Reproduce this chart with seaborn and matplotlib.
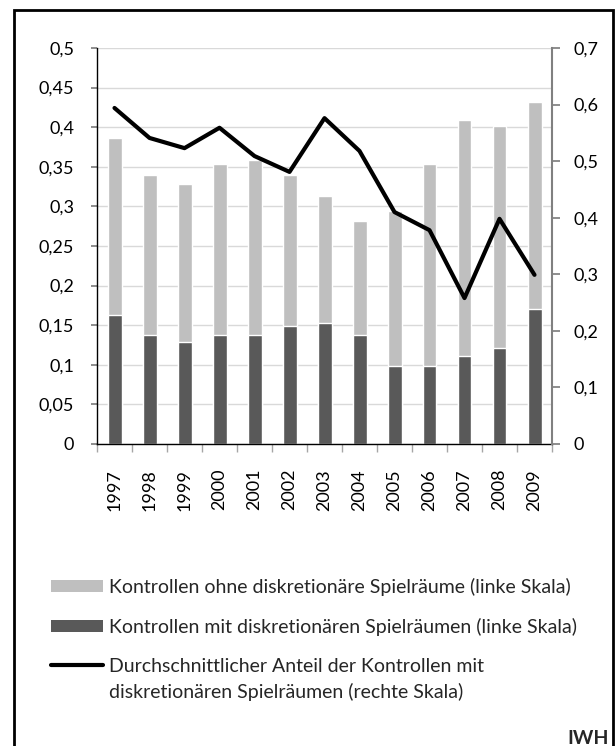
import numpy as np
import pandas as pd
import seaborn as sns
import matplotlib.pyplot as plt
from matplotlib.ticker import FuncFormatter, MultipleLocator, FixedLocator
from matplotlib.patches import Patch, Rectangle
from matplotlib.lines import Line2D

# Data
years = ["1997", "1998", "1999", "2000", "2001", "2002", "2003",
         "2004", "2005", "2006", "2007", "2008", "2009"]
total_controls = [0.386, 0.340, 0.328, 0.354, 0.359, 0.340, 0.313,
                  0.281, 0.294, 0.354, 0.409, 0.402, 0.432]
with_discretion = [0.163, 0.138, 0.129, 0.137, 0.138, 0.149, 0.153,
                   0.138, 0.098, 0.099, 0.111, 0.121, 0.171]
avg_share = [0.594, 0.541, 0.523, 0.559, 0.509, 0.481, 0.576,
             0.518, 0.410, 0.378, 0.258, 0.398, 0.299]

labels = ["Kontrollen ohne diskretionäre Spielräume (linke Skala)",
          "Kontrollen mit diskretionären Spielräumen (linke Skala)",
          "Durchschnittlicher Anteil der Kontrollen mit"]
label_cont = "diskretionären Spielräumen (rechte Skala)"

df = pd.DataFrame({"year": years, "total": total_controls,
                   "with": with_discretion, "share": avg_share})

sns.set_theme(style="white")
plt.rcParams["font.family"] = ["Lato", "DejaVu Sans"]

light = "#bfbfbf"
dark = "#595959"

fig = plt.figure(figsize=(6.16, 7.46), dpi=100)
ax = fig.add_axes([97 / 616, 1 - 444 / 746, 455 / 616, 396 / 746])

sns.barplot(data=df, x="year", y="total", color=light, width=0.4,
            saturation=1, ax=ax)
sns.barplot(data=df, x="year", y="with", color=dark, width=0.4,
            saturation=1, ax=ax)

ax.set_xlim(-0.5, 12.5)
ax.set_ylim(0, 0.5)
ax.yaxis.set_major_locator(MultipleLocator(0.05))
comma = FuncFormatter(lambda v, p: f"{round(v, 3):g}".replace(".", ","))
ax.yaxis.set_major_formatter(comma)
ax.set_xlabel("")
ax.set_ylabel("")
ax.grid(axis="y", color="#d9d9d9", linewidth=1)
ax.set_axisbelow(True)
for s in ["top", "right"]:
    ax.spines[s].set_visible(False)
ax.spines["left"].set_color("black")
ax.spines["bottom"].set_color("black")
ax.spines["left"].set_linewidth(1)
ax.spines["bottom"].set_linewidth(1)

ax.tick_params(axis="y", left=True, length=4.3, color="#808080",
               labelsize=13, pad=12, labelcolor="black")
ax.tick_params(axis="x", which="major", length=0, labelsize=13,
               rotation=90, pad=18, labelcolor="black")
ax.xaxis.set_minor_locator(FixedLocator(np.arange(-0.5, 13, 1)))
ax.tick_params(axis="x", which="minor", bottom=True, length=5.8,
               color="#a6a6a6")

ax2 = ax.twinx()
sns.lineplot(x=np.arange(len(years)), y=df["share"], color="black",
             linewidth=3, ax=ax2)
ax2.set_ylim(0, 0.7)
ax2.set_xlim(-0.5, 12.5)
ax2.yaxis.set_major_locator(MultipleLocator(0.1))
ax2.yaxis.set_major_formatter(comma)
ax2.set_ylabel("")
for s in ["top", "left", "bottom"]:
    ax2.spines[s].set_visible(False)
ax2.spines["right"].set_color("#808080")
ax2.spines["right"].set_linewidth(1.5)
ax2.tick_params(axis="y", right=True, length=5.8, color="#808080",
                labelsize=13, pad=9.4, labelcolor="black")
ax2.grid(False)

# legend: one row per entry so each row sits where the reference has it
handles = [Patch(facecolor=light, edgecolor="none"),
           Patch(facecolor=dark, edgecolor="none"),
           Line2D([0], [0], color="black", linewidth=3)]
row_y = [587, 627, 666]
for h, lab, y in zip(handles, labels, row_y):
    fig.legend([h], [lab], loc="center left",
               bbox_to_anchor=(43 / 616, 1 - y / 746), frameon=False,
               fontsize=14, handlelength=2.68, handleheight=0.57,
               handletextpad=0.3, borderaxespad=0, borderpad=0.4)
fig.text(109 / 616, 1 - 692 / 746, label_cont, fontsize=14,
         ha="left", va="center")

fig.text(609 / 616, 1 - 738.5 / 746, "IWH", fontsize=14, fontweight="bold",
         ha="right", va="center")

fig.patches.append(Rectangle((14 / 616, -0.02), 599 / 616, 0.02 + 1 - 10 / 746,
                             transform=fig.transFigure, fill=False,
                             edgecolor="black", linewidth=2))

fig.savefig("out.png", dpi=100)
